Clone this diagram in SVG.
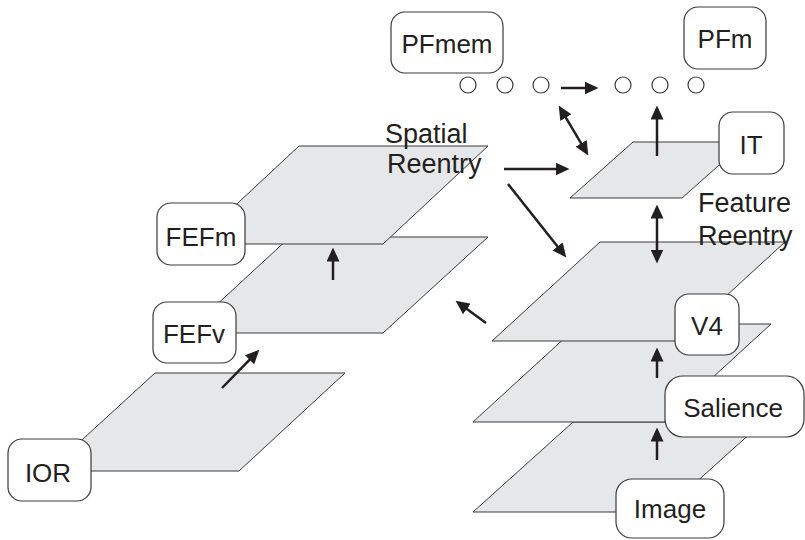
<svg xmlns="http://www.w3.org/2000/svg" width="805" height="540" viewBox="0 0 805 540">
<defs>
<marker id="ah" markerUnits="userSpaceOnUse" markerWidth="14" markerHeight="13" refX="10.5" refY="6.5" orient="auto-start-reverse">
<path d="M0,0 L14,6.5 L0,13 z" fill="#231f20"/>
</marker>
<style>
.plane{fill:#e6e7e8;stroke:#3a3a3a;stroke-width:1}
.box{fill:#fff;stroke:#3a3a3a;stroke-width:1.2}
.lbl{font-family:"Liberation Sans",Arial,sans-serif;font-size:26px;fill:#231f20;text-anchor:middle}
.txt{font-family:"Liberation Sans",Arial,sans-serif;font-size:27px;fill:#231f20}
.arr{stroke:#231f20;stroke-width:2.5;fill:none;marker-end:url(#ah)}
.dbl{stroke:#231f20;stroke-width:2.5;fill:none;marker-start:url(#ah);marker-end:url(#ah)}
.dot{fill:#fff;stroke:#3a3a3a;stroke-width:1.2}
</style>
</defs>
<rect width="805" height="540" fill="#fff"/>

<!-- planes -->
<g id="plane-ior"><polygon class="plane" points="155,373 345,373 239,471 48,471"/></g>
<g id="plane-fefv"><polygon class="plane" points="290,237 488,237 383,333 186,333"/></g>
<g id="plane-fefm"><polygon class="plane" points="299,146 488,146 383,244 194,244"/></g>
<g id="plane-image"><polygon class="plane" points="573,422 763,422 663,512 473,512"/></g>
<g id="plane-salience"><polygon class="plane" points="580,324 771,324 664,422 473,422"/></g>
<g id="plane-v4"><polygon class="plane" points="600,242 785,242 677,341 492,341"/></g>
<g id="plane-it"><polygon class="plane" points="633,142 745,142 682,198 570,198"/></g>

<!-- circles -->
<g id="pf-units">
<circle class="dot" cx="468" cy="85" r="8"/>
<circle class="dot" cx="505" cy="85" r="8"/>
<circle class="dot" cx="541" cy="85" r="8"/>
<circle class="dot" cx="623" cy="85" r="8"/>
<circle class="dot" cx="660" cy="85" r="8"/>
<circle class="dot" cx="696" cy="85" r="8"/>
</g>

<!-- connectors -->
<g id="connectors">
<line class="arr" x1="561" y1="88" x2="595" y2="88"/>
<line class="arr" x1="657" y1="156" x2="657" y2="109"/>
<line class="dbl" x1="560.5" y1="108.6" x2="586.5" y2="152.4"/>
<line class="arr" x1="504" y1="169" x2="566" y2="169"/>
<line class="arr" x1="508" y1="184" x2="564.1" y2="254.7"/>
<line class="dbl" x1="657" y1="208" x2="657" y2="260"/>
<line class="arr" x1="486" y1="323" x2="458.4" y2="302.8"/>
<line class="arr" x1="657" y1="378" x2="657" y2="351"/>
<line class="arr" x1="657" y1="460" x2="657" y2="431"/>
<line class="arr" x1="333" y1="280" x2="333" y2="251"/>
<line class="arr" x1="222" y1="388" x2="256.9" y2="352.2"/>
</g>

<!-- free text -->
<g id="spatial-reentry">
<text class="txt" x="385" y="143">Spatial</text>
<text class="txt" x="387" y="173">Reentry</text>
</g>
<g id="feature-reentry">
<text class="txt" x="698" y="212">Feature</text>
<text class="txt" x="698" y="245">Reentry</text>
</g>

<!-- label nodes -->
<g id="PFmem"><rect class="box" x="391" y="12" width="112" height="61" rx="14"/><text class="lbl" x="447" y="53">PFmem</text></g>
<g id="PFm"><rect class="box" x="684" y="7" width="82" height="62" rx="14"/><text class="lbl" x="725" y="48">PFm</text></g>
<g id="IT"><rect class="box" x="719" y="112" width="65" height="62" rx="14"/><text class="lbl" x="751" y="154">IT</text></g>
<g id="FEFm"><rect class="box" x="157" y="203" width="88" height="62" rx="14"/><text class="lbl" x="201" y="246">FEFm</text></g>
<g id="FEFv"><rect class="box" x="153" y="302" width="83" height="61" rx="14"/><text class="lbl" x="194" y="343">FEFv</text></g>
<g id="IOR"><rect class="box" x="8" y="439" width="83" height="62" rx="14"/><text class="lbl" x="48" y="482">IOR</text></g>
<g id="V4"><rect class="box" x="675" y="294" width="64" height="61" rx="14"/><text class="lbl" x="707" y="335">V4</text></g>
<g id="Salience"><rect class="box" x="665" y="376" width="139" height="61" rx="18"/><text class="lbl" x="733" y="417">Salience</text></g>
<g id="Image"><rect class="box" x="616" y="479" width="108" height="59" rx="16"/><text class="lbl" x="670" y="518">Image</text></g>
</svg>
